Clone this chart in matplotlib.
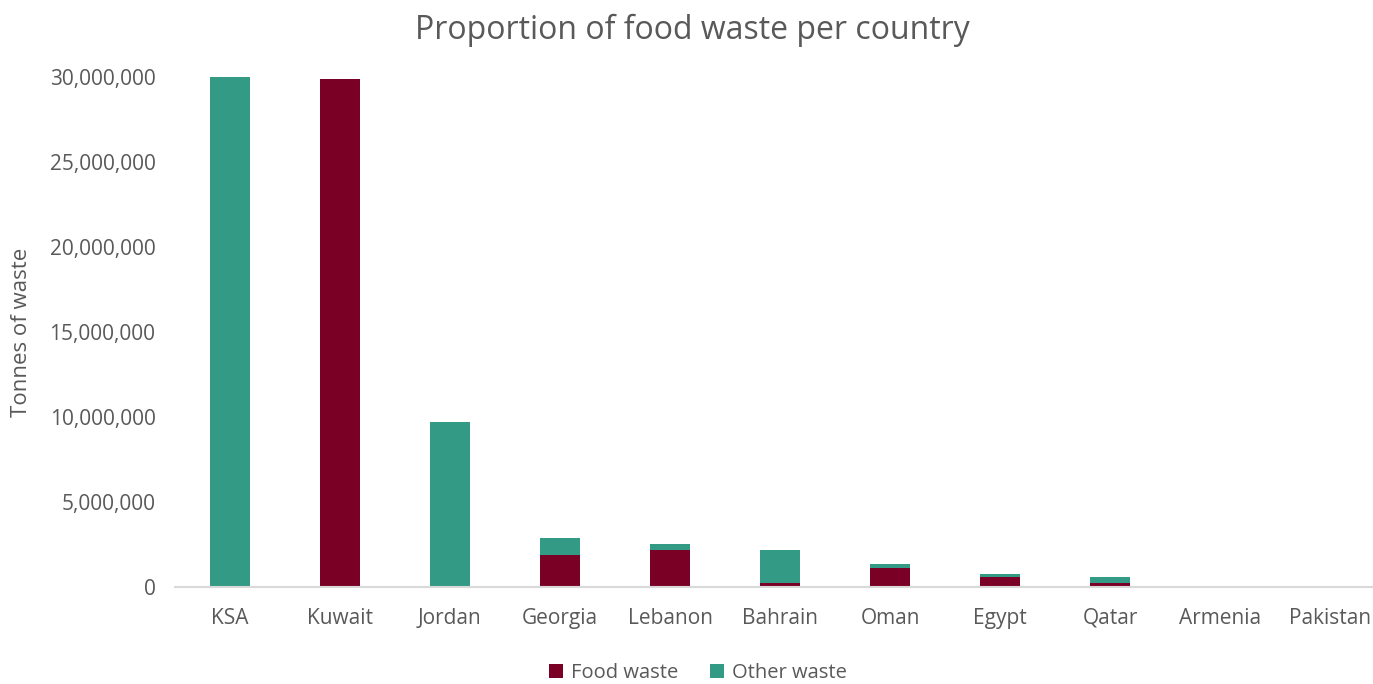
import matplotlib

matplotlib.use("Agg")
import matplotlib.pyplot as plt  # noqa: E402
from matplotlib.ticker import FuncFormatter  # noqa: E402

# Values (tonnes).
countries = ["KSA", "Kuwait", "Jordan", "Georgia", "Lebanon", "Bahrain",
             "Oman", "Egypt", "Qatar", "Armenia", "Pakistan"]
food_waste = [0, 29_880_000, 0, 1_860_000, 2_160_000, 260_000,
              1_090_000, 580_000, 220_000, 5_000, 2_000]
other_waste = [30_020_000, 0, 9_700_000, 1_020_000, 370_000, 1_940_000,
               270_000, 170_000, 340_000, 20_000, 8_000]

FOOD_COLOR = "#7A0026"
OTHER_COLOR = "#339B85"
TEXT_COLOR = "#595959"

plt.rcParams["font.family"] = ["Open Sans", "DejaVu Sans"]

fig = plt.figure(figsize=(13.73, 6.84), dpi=100)
ax = fig.add_axes([175 / 1373, 97 / 684, 1210 / 1373, 510 / 684])

x = list(range(len(countries)))
ax.bar(x, food_waste, width=0.355, color=FOOD_COLOR, label="Food waste")
ax.bar(x, other_waste, width=0.355, bottom=food_waste, color=OTHER_COLOR,
       label="Other waste")

ax.set_xlim(-0.5, len(countries) - 0.5)
ax.set_ylim(0, 30_000_000)
ax.set_yticks(range(0, 30_000_001, 5_000_000))
ax.yaxis.set_major_formatter(FuncFormatter(lambda v, _: f"{int(v):,}"))
ax.set_xticks(x)
ax.set_xticklabels(countries)
ax.tick_params(axis="both", length=0, labelsize=15, colors=TEXT_COLOR)
ax.tick_params(axis="x", pad=15)
ax.tick_params(axis="y", pad=14)

for side in ("top", "right", "left"):
    ax.spines[side].set_visible(False)
ax.spines["bottom"].set_color("#D9D9D9")
ax.spines["bottom"].set_linewidth(1.5)

ax.set_ylabel("Tonnes of waste", fontsize=16, color=TEXT_COLOR)
ax.yaxis.set_label_coords(-0.118, 0.5)
fig.text(692 / 1373, 1 - 30 / 684, "Proportion of food waste per country",
         ha="center", va="center", fontsize=23, color=TEXT_COLOR)

fig.legend(loc="center", bbox_to_anchor=(698 / 1373, 1 - 673 / 684), ncol=2,
           frameon=False, fontsize=14.5, labelcolor=TEXT_COLOR,
           handlelength=0.7, handleheight=0.7, handletextpad=0.4,
           columnspacing=1.6)

fig.savefig("out.png", dpi=100)
plt.close(fig)
